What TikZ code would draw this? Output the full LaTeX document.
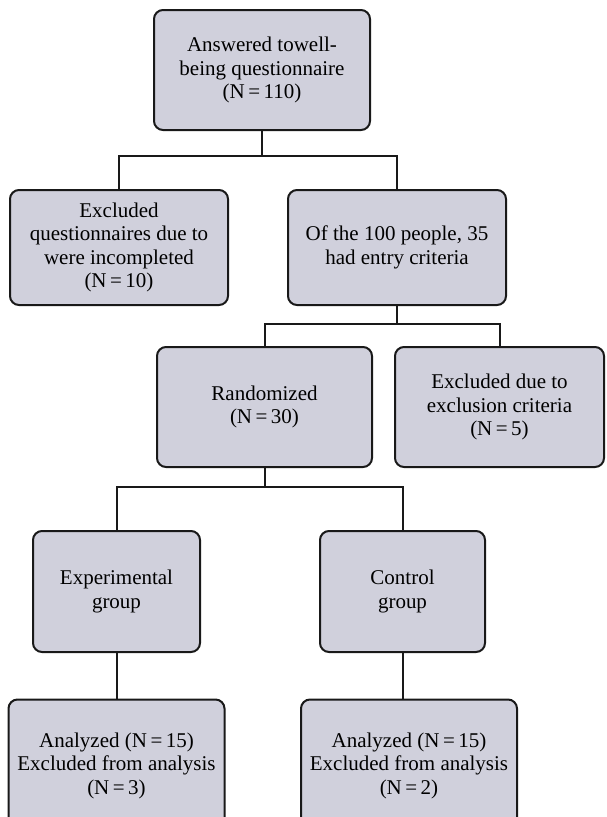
\documentclass[tikz,border=0pt]{standalone}
\usepackage{fontspec}
\setmainfont{Liberation Serif}
\usetikzlibrary{positioning}
\definecolor{boxfill}{RGB}{208,208,220}

\begin{document}
\begin{tikzpicture}[on grid,
    stage/.style={draw=black!90,line width=2pt,rounded corners=9pt,fill=boxfill,
        align=center,inner sep=0pt,font=\fontsize{21}{23.5}\selectfont},
    link/.style={draw=black!90,line width=2pt}]
                        \useasboundingbox (0pt,0pt) rectangle (606pt,-817pt);
                        \node[stage,minimum width=216pt,minimum height=120pt] (Ans) at (262pt,-70pt)
                            {Answered towell-\\being questionnaire\\(N\,=\,110)};
                        \node[stage,minimum width=218pt,minimum height=115pt] (Exq) [below left=177.5pt and 143pt of Ans]
                            {Excluded\\questionnaires due to\\were incompleted\\(N\,=\,10)};
                        \node[stage,minimum width=218pt,minimum height=115pt] (Crit) [below right=177.5pt and 135pt of Ans]
                            {Of the 100 people, 35\\had entry criteria};
                        \node[stage,minimum width=215pt,minimum height=120pt] (Rnd) [below left=159.5pt and 132.5pt of Crit]
                            {Randomized\\(N\,=\,30)};
                        \node[stage,minimum width=209pt,minimum height=120pt] (Exc) [below right=159.5pt and 102.5pt of Crit]
                            {Excluded due to\\exclusion criteria\\(N\,=\,5)};
                        \node[stage,minimum width=167pt,minimum height=121pt] (Exp) [below left=184.5pt and 148pt of Rnd]
                            {Experimental\\group};
                        \node[stage,minimum width=165pt,minimum height=121pt] (Ctl) [below right=184.5pt and 138pt of Rnd]
                            {Control\\group};
                        % bottom boxes run past the lower edge
                        \node[stage,minimum width=216pt,minimum height=132pt] (AnE) [below=174pt of Exp]
                            {Analyzed (N\,=\,15)\\Excluded from analysis\\(N\,=\,3)};
                        \node[stage,minimum width=216pt,minimum height=132pt] (AnC) [below right=174pt and 6.5pt of Ctl]
                            {Analyzed (N\,=\,15)\\Excluded from analysis\\(N\,=\,2)};
                        \path[link]
                            (Ans.south) -- ++(0,-25pt) -| (Exq.north)
                            (Ans.south) -- ++(0,-25pt) -| (Crit.north)
                            (Crit.south) -- ++(0,-18pt) -| (Rnd.north)
                            (Crit.south) -- ++(0,-18pt) -| (Exc.north)
                            (Rnd.south) -- ++(0,-19pt) -| (Exp.north)
                            (Rnd.south) -- ++(0,-19pt) -| (Ctl.north)
                            (Exp.south) -- (AnE.north)
                            (Ctl.south) -- (Ctl.south |- AnC.north);
                    \end{tikzpicture}
\end{document}
